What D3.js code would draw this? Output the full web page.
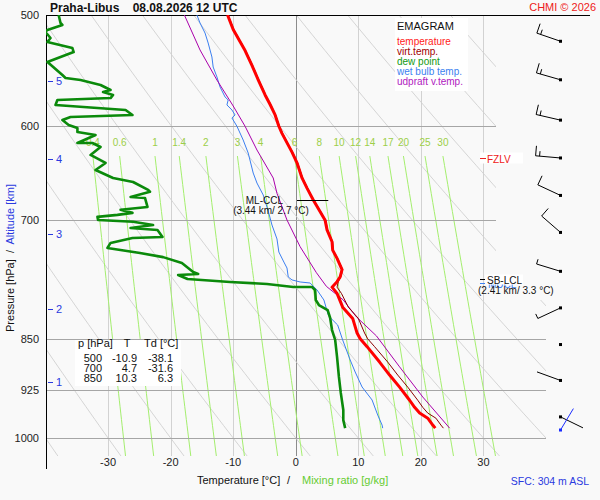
<!DOCTYPE html>
<html>
<head>
<meta charset="utf-8">
<script src="https://cdn.jsdelivr.net/npm/d3@7"></script>
<style>
body{margin:0;background:#f9f9f9}
svg{display:block;font-family:Arial,"Liberation Sans",sans-serif}
</style>
</head>
<body>
<div id="chart"></div>
<script>
// sounding Praha-Libus 08.08.2026 12 UTC
var tempP = [500,512,530,543,556,570,579,589,600,607,626,637,653,664,677,700,711,725,735,745,759,768,774,781,789,807,822,842,850,861,883,902,920,940,951,960,968,979,984];
var tempT = [-10.9,-10.0,-8.1,-7.0,-6.0,-4.9,-4.1,-3.3,-2.7,-2.2,-0.6,0.2,1.0,1.8,2.8,4.7,5.0,5.8,5.9,6.6,7.4,7.1,6.6,5.8,6.6,7.5,9.1,9.8,10.3,11.4,13.4,15.0,16.6,18.2,19.0,19.8,21.1,21.9,22.3];
var virtT = [-10.8,-9.9,-8.0,-6.9,-5.9,-4.8,-4.0,-3.2,-2.6,-2.1,-0.5,0.3,1.1,1.9,2.9,4.8,5.1,5.9,6.0,6.7,7.5,7.2,6.8,6.6,7.3,8.4,10.0,11.0,11.5,12.6,14.7,16.3,17.9,19.5,20.3,21.1,22.4,23.2,23.6];

var dewP = [500,506.6,508.2,512.4,514.1,519.2,522.6,527.8,531.3,540.0,540.9,551.7,554.4,556.2,560.8,565.4,567.3,570.0,572.9,574.7,579.4,584.2,589.0,591.0,593.9,598.7,601.7,605.7,608.6,616.7,616.7,620.7,628.9,637.2,644.6,653.1,657.4,666.0,668.0,673.7,674.8,684.8,688.0,691.5,693.8,696.0,699.6,701.7,705.4,708.9,711.2,719.4,720.6,726.4,732.4,738.5,743.5,750.6,761.8,764.3,765.6,770.6,774.4,777.0,780.8,780.8,784.6,797.6,804.2,810.9,821.5,837.9,851.6,875.5,904.7,928.8,955.2,971.1,984.0];
var dewT = [-37.9,-37.6,-37.3,-39.7,-40.0,-39.2,-39.7,-35.7,-35.5,-39.7,-39.5,-37.3,-36.8,-34.4,-31.2,-29.6,-30.8,-29.2,-29.6,-38.1,-38.4,-27.2,-26.1,-36.0,-37.3,-36.3,-34.9,-34.9,-32.0,-34.9,-32.5,-31.2,-32.8,-30.4,-32.0,-29.2,-26.0,-23.6,-23.3,-26.4,-24.1,-23.7,-28.0,-26.1,-28.5,-31.7,-31.6,-26.0,-22.8,-26.4,-22.1,-21.3,-26.1,-29.6,-30.1,-24.9,-21.2,-18.2,-16.4,-15.6,-18.8,-17.3,-10.5,-4.6,-0.4,2.6,3.1,3.2,3.7,5.1,5.5,5.8,6.3,6.6,6.9,7.2,7.6,7.6,7.9];

var wetP = [500,506.6,515,523.5,535.6,544.5,553.4,562.6,571.9,574.7,579.4,584.2,589,591.9,600,613.7,626.9,647.8,658.5,671.5,689.4,705.4,721.7,737.3,749.5,756.9,768.1,771.8,774.4,775.7,784.6,797.6,814.8,819.2,831,851.6,880,897.5,919.8,939.6,963,979,984];
var wetT = [-15.8,-15.3,-14.5,-14.0,-13.4,-13.2,-12.6,-12.1,-11.3,-10.8,-11.0,-10.2,-9.7,-10.2,-9.4,-8.4,-7.6,-6.8,-6.2,-5.2,-4.4,-3.8,-3.0,-2.7,-1.9,-1.4,-1.2,-0.6,0.7,2.3,3.4,4.5,5.1,5.3,6.7,7.5,8.7,9.5,10.6,12.2,13.1,13.8,13.9];

var parcelP = [500,529.5,556.2,580.4,600,623.8,653.1,669.7,699.6,730.9,762.7,780,797.6,820,846,890,935,984];
var parcelT = [-17.8,-15.3,-12.6,-10.0,-8.1,-6.2,-3.6,-3.0,-1.4,0.7,3.3,4.9,7.6,9.7,12.9,16.6,20.3,24.6];

var windP = [522,556,594,632,672,714,761,808,858,910,966];
var windDir = [289,286,283,275,295,311,287,245,0,290,116];
var windSpd = [15,15,15,15,10,10,5,5,0,2,2];
var sfcWind = {p:987, dir:31, spd:2};

var isobars = [600,700,850,925,1000];
var pressLabels = [500,600,700,850,925,1000];
var tempTicks = [-30,-20,-10,0,10,20,30];
var altKm = [1,2,3,4,5];
var altP = [912,809,716,633,557];
var mixW = [0.4,0.6,1,1.4,2,3,4,6,8,10,12,14,17,20,25,30];

var tabP = [500,700,850];
var tabT = [-10.9,4.7,10.3];
var tabTd = [-38.1,-31.6,6.3];

var legNames = ["temperature","virt.temp.","dew point","wet bulb temp.","udpraft v.temp."];
var legCols = ["#ff1a1a","#a00000","#119911","#3b7ff0","#b020c0"];

var x = d3.scaleLinear().domain([-40,40]).range([45.5,546]);
var y = d3.scaleLog().domain([500,1000]).range([15,438]);
var pBot = 1030;

var svg = d3.select("#chart").append("svg")
    .attr("width",600)
    .attr("height",500);
svg.append("rect").attr("width",600).attr("height",500).attr("fill","#f9f9f9");

var defs = svg.append("defs");
defs.append("clipPath").attr("id","clipPlot")
    .append("rect").attr("x",46).attr("y",15).attr("width",500).attr("height",y(pBot)-15);
defs.append("clipPath").attr("id","clipGrid")
    .append("path").attr("d","M46,15H496V300H546V"+y(pBot)+"H46Z");

var grid = svg.append("g").attr("clip-path","url(#clipGrid)");

// isotherms
grid.selectAll(".iso")
    .data(tempTicks)
    .enter()
    .append("line")
    .attr("x1",function(d){return Math.round(x(d))+0.5})
    .attr("x2",function(d){return Math.round(x(d))+0.5})
    .attr("y1",15)
    .attr("y2",y(pBot))
    .attr("stroke",function(d){return d==0?"#8c8c8c":"#d2d2d2"});

// dry adiabats
var thetas = d3.range(-40,130,10);
var adiaP = d3.range(500,pBot+1,10);
var line = d3.line()
    .x(function(d){return x(d[1])})
    .y(function(d){return y(d[0])});
grid.selectAll(".dry")
    .data(thetas)
    .enter()
    .append("path")
    .attr("d",function(th){
        return line(adiaP.map(function(p){
            return [p,(th+273.15)*Math.pow(p/1000,0.286)-273.15];
        }));
    })
    .attr("fill","none")
    .attr("stroke","#d0d0d0")
    .attr("stroke-width",0.9);

// mixing ratio lines
function mixTemp(w,p){
    var e = w*p/(622+w);
    var l = Math.log(e/6.112);
    return 243.5*l/(17.67-l);
}
var mixP = d3.range(630,pBot+1,10);
grid.selectAll(".mix")
    .data(mixW)
    .enter()
    .append("path")
    .attr("d",function(w){
        return line(mixP.map(function(p){return [p,mixTemp(w,p)]}));
    })
    .attr("fill","none")
    .attr("stroke","#a4ee6e")
    .attr("stroke-width",1);

// isobars
grid.selectAll(".bar")
    .data(isobars)
    .enter()
    .append("line")
    .attr("x1",46)
    .attr("x2",546)
    .attr("y1",function(d){return Math.round(y(d))+0.5})
    .attr("y2",function(d){return Math.round(y(d))+0.5})
    .attr("stroke","#a6a6a6");

// mixing ratio labels
svg.selectAll(".mixlab")
    .data(mixW)
    .enter()
    .append("text")
    .attr("x",function(w){return x(mixTemp(w,630))})
    .attr("y",146)
    .attr("text-anchor","middle")
    .attr("font-size",10)
    .attr("fill","#9ccf48")
    .text(function(d){return d});

// axes frame
svg.append("line").attr("x1",46.5).attr("x2",46.5).attr("y1",15).attr("y2",469).attr("stroke","#000");
svg.append("line").attr("x1",46).attr("x2",590).attr("y1",15.5).attr("y2",15.5).attr("stroke","#000");

svg.selectAll(".plab")
    .data(pressLabels)
    .enter()
    .append("text")
    .attr("x",39)
    .attr("y",function(d){return y(d)+4})
    .attr("text-anchor","end")
    .attr("font-size",11)
    .attr("fill","#222")
    .text(function(d){return d});

svg.selectAll(".tlab")
    .data(tempTicks)
    .enter()
    .append("text")
    .attr("x",function(d){return x(d)})
    .attr("y",466)
    .attr("text-anchor","middle")
    .attr("font-size",11)
    .attr("fill","#222")
    .text(function(d){return d});

var alt = svg.selectAll(".alt")
    .data(d3.zip(altKm,altP))
    .enter()
    .append("g");
alt.append("line")
    .attr("x1",48).attr("x2",53)
    .attr("y1",function(d){return Math.round(y(d[1]))+0.5})
    .attr("y2",function(d){return Math.round(y(d[1]))+0.5})
    .attr("stroke","#2a3ae0");
alt.append("text")
    .attr("x",56)
    .attr("y",function(d){return y(d[1])+4})
    .attr("font-size",11)
    .attr("fill","#2a3ae0")
    .text(function(d){return d[0]});

// axis titles
var yt = svg.append("text")
    .attr("transform","translate(14,258) rotate(-90)")
    .attr("text-anchor","middle")
    .attr("font-size",11)
    .attr("fill","#111");
yt.append("tspan").text("Pressure [hPa]  /  ").attr("style","white-space:pre");
yt.append("tspan").text("Altitude [km]").attr("fill","#2a3ae0");

svg.append("text").attr("x",197).attr("y",484).attr("font-size",11).attr("fill","#111").text("Temperature [°C]");
svg.append("text").attr("x",287).attr("y",484).attr("font-size",11).attr("fill","#111").text("/");
svg.append("text").attr("x",302).attr("y",484).attr("font-size",11).attr("fill","#66cc33").text("Mixing ratio [g/kg]");

svg.append("text").attr("x",50).attr("y",12).attr("font-size",12).attr("font-weight","bold").attr("fill","#111")
    .attr("style","white-space:pre").text("Praha-Libus    08.08.2026 12 UTC");
svg.append("text").attr("x",596).attr("y",11).attr("text-anchor","end").attr("font-size",11).attr("fill","#ee2020").text("CHMI © 2026");
svg.append("text").attr("x",589).attr("y",485).attr("text-anchor","end").attr("font-size",10.5).attr("fill","#2a3ae0").text("SFC: 304 m ASL");

// legend
svg.append("rect").attr("x",395).attr("y",18).attr("width",73).attr("height",73).attr("fill","#fff");
svg.append("text").attr("x",397).attr("y",30).attr("font-size",11).attr("fill","#111").text("EMAGRAM");
svg.selectAll(".leg")
    .data(legNames)
    .enter()
    .append("text")
    .attr("x",397)
    .attr("y",function(d,i){return 45+i*10})
    .attr("font-size",10)
    .attr("fill",function(d,i){return legCols[i]})
    .text(function(d){return d});

// table
svg.append("rect").attr("x",75).attr("y",340).attr("width",106).attr("height",46).attr("fill","#fff");
svg.append("text").attr("x",78).attr("y",347).attr("font-size",11).attr("fill","#111").text("p [hPa]");
svg.append("text").attr("x",127).attr("y",347).attr("text-anchor","middle").attr("font-size",11).attr("fill","#111").text("T");
svg.append("text").attr("x",144).attr("y",347).attr("font-size",11).attr("fill","#111").text("Td [°C]");
var rows = svg.selectAll(".row")
    .data(d3.range(tabP.length))
    .enter()
    .append("g")
    .attr("font-size",11)
    .attr("fill","#111")
    .attr("text-anchor","end");
rows.append("text").attr("x",102).attr("y",function(i){return 362+i*10}).text(function(i){return tabP[i]});
rows.append("text").attr("x",137).attr("y",function(i){return 362+i*10}).text(function(i){return tabT[i].toFixed(1)});
rows.append("text").attr("x",173).attr("y",function(i){return 362+i*10}).text(function(i){return tabTd[i].toFixed(1)});

// profiles
var prof = svg.append("g").attr("clip-path","url(#clipPlot)").attr("fill","none");
function draw(ps,ts,col,w){
    prof.append("path")
        .attr("d",line(d3.zip(ps,ts)))
        .attr("stroke",col)
        .attr("stroke-width",w)
        .attr("stroke-linejoin","round");
}
draw(wetP,wetT,"#3b7ff0",1);
draw(parcelP,parcelT,"#aa00aa",1);
draw(dewP,dewT,"#0b8a0b",2.6);
draw(tempP,virtT,"#8b0000",1);
draw(tempP,tempT,"#ff0000",3);

// ML-CCL
svg.append("line").attr("x1",x(0.2)).attr("x2",x(5.2)).attr("y1",Math.round(y(677))+0.5).attr("y2",Math.round(y(677))+0.5).attr("stroke","#000");
svg.append("text").attr("x",283).attr("y",y(677)+4).attr("text-anchor","end").attr("font-size",10).attr("fill","#111").text("ML-CCL");
svg.append("text").attr("x",271).attr("y",y(677)+14).attr("text-anchor","middle").attr("font-size",10).attr("fill","#111").text("(3.44 km/ 2.7 °C)");

// FZLV
var yf = Math.round(y(632))+0.5;
svg.append("rect").attr("x",480).attr("y",yf-6).attr("width",43).attr("height",11).attr("fill","#fff");
svg.append("line").attr("x1",480).attr("x2",486).attr("y1",yf).attr("y2",yf).attr("stroke","#ee2020");
svg.append("text").attr("x",487).attr("y",yf+4).attr("font-size",10).attr("fill","#ee2020").text("FZLV");

// SB-LCL / MUCL
var yl = Math.round(y(771))+0.5;
svg.append("line").attr("x1",480).attr("x2",485).attr("y1",yl+4).attr("y2",yl+4).attr("stroke","#3b7ff0");
svg.append("text").attr("x",488).attr("y",yl+8).attr("font-size",10).attr("fill","#3b7ff0").text("MUCL");
svg.append("rect").attr("x",485).attr("y",yl-5).attr("width",38).attr("height",10).attr("fill","#fff");
svg.append("line").attr("x1",480).attr("x2",485).attr("y1",yl).attr("y2",yl).attr("stroke","#000");
svg.append("text").attr("x",487).attr("y",yl+4).attr("font-size",10).attr("fill","#111").text("SB-LCL");
svg.append("text").attr("x",478).attr("y",yl+14).attr("font-size",10).attr("fill","#111").text("(2.41 km/ 3.3 °C)");

// wind barbs
var bx0 = 560.5;
function barb(p,dir,spd,col){
    var cy = y(p);
    var g = svg.append("g").attr("stroke",col).attr("fill",col);
    g.append("rect").attr("x",bx0-1.5).attr("y",cy-1.5).attr("width",3).attr("height",3).attr("stroke","none");
    if(spd==0) return;
    var r = dir*Math.PI/180;
    var ux = Math.sin(r), uy = -Math.cos(r);
    var px = Math.cos(r), py = Math.sin(r);
    var L = 25;
    g.append("line").attr("x1",bx0).attr("y1",cy).attr("x2",bx0+L*ux).attr("y2",cy+L*uy);
    var full = Math.floor(spd/10), half = (spd%10)>=5 ? 1 : 0;
    var pos = L;
    for(var i=0;i<full;i++){
        g.append("line")
            .attr("x1",bx0+pos*ux).attr("y1",cy+pos*uy)
            .attr("x2",bx0+pos*ux+10*px).attr("y2",cy+pos*uy+10*py);
        pos -= 4;
    }
    if(half){
        g.append("line")
            .attr("x1",bx0+pos*ux).attr("y1",cy+pos*uy)
            .attr("x2",bx0+pos*ux+5*px).attr("y2",cy+pos*uy+5*py);
    }
}
windP.forEach(function(p,i){
    barb(p,windDir[i],windSpd[i],"#000");
});
barb(sfcWind.p,sfcWind.dir,sfcWind.spd,"#1a2cff");
</script>
</body>
</html>
